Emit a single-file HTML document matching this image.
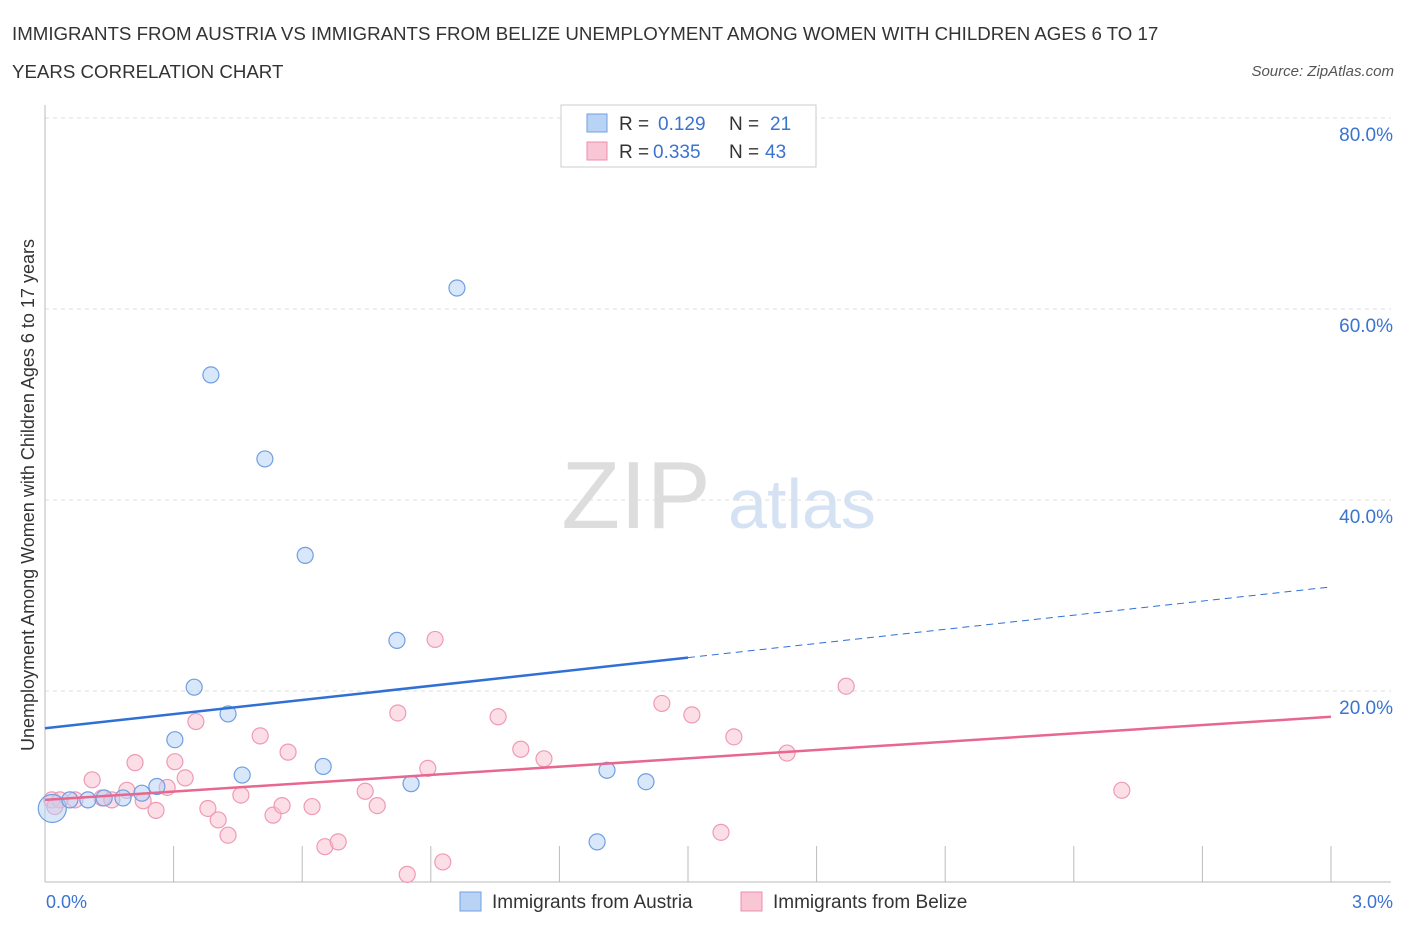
<!DOCTYPE html>
<html><head><meta charset="utf-8"><style>
body{margin:0;background:#fff;font-family:"Liberation Sans",sans-serif;}
svg text{font-family:"Liberation Sans",sans-serif;}
</style></head><body>
<svg id="c" width="1406" height="930" xmlns="http://www.w3.org/2000/svg">
<text x="12" y="40" font-size="18.7" fill="#333">IMMIGRANTS FROM AUSTRIA VS IMMIGRANTS FROM BELIZE UNEMPLOYMENT AMONG WOMEN WITH CHILDREN AGES 6 TO 17</text>
<text x="12" y="78" font-size="18.7" fill="#333">YEARS CORRELATION CHART</text>
<text x="1394" y="76" font-size="15" fill="#555" font-style="italic" text-anchor="end">Source: ZipAtlas.com</text>
<text x="636" y="528" font-size="96" fill="#ddd" font-family="Liberation Serif" text-anchor="middle">ZIP</text>
<text x="802" y="528" font-size="70" fill="#d4e2f4" text-anchor="middle">atlas</text>
<text transform="translate(34,495) rotate(-90)" font-size="18" fill="#333" text-anchor="middle">Unemployment Among Women with Children Ages 6 to 17 years</text>
<g id="grid"></g><g id="marks"></g>
<g>
<rect x="561" y="105" width="255" height="62" fill="#fff" stroke="#ccc"/>
<rect x="587" y="114" width="20" height="18" fill="#b9d3f5" stroke="#6f9fe0"/>
<rect x="587" y="142" width="20" height="18" fill="#f9c6d5" stroke="#ec8fac"/>
<text y="130" font-size="19" fill="#333"><tspan x="619">R =</tspan><tspan x="658" fill="#3a73d0">0.129</tspan><tspan x="729">N =</tspan><tspan x="770" fill="#3a73d0">21</tspan></text>
<text y="158" font-size="19" fill="#333"><tspan x="619">R =</tspan><tspan x="653" fill="#3a73d0">0.335</tspan><tspan x="729">N =</tspan><tspan x="765" fill="#3a73d0">43</tspan></text>
</g>
<g>
<rect x="460" y="892" width="21" height="19" fill="#b9d3f5" stroke="#6f9fe0"/>
<text x="492" y="908" font-size="19" fill="#333">Immigrants from Austria</text>
<rect x="741" y="892" width="21" height="19" fill="#f9c6d5" stroke="#ec8fac"/>
<text x="773" y="908" font-size="19" fill="#333">Immigrants from Belize</text>
</g>
</svg>
<script>
const yTicks=[20,40,60,80];
const xTickLabels=["0.0%","3.0%"];
const austriaX=[0.017,0.058,0.100,0.138,0.182,0.226,0.261,0.303,0.348,0.387,0.427,0.460,0.513,0.607,0.649,0.821,0.854,0.961,1.311,1.288,1.402];
const austriaY=[7.7,8.6,8.6,8.8,8.8,9.3,10.0,14.9,20.4,53.1,17.6,11.2,44.3,34.2,12.1,25.3,10.3,62.2,11.7,4.2,10.5];
const belizeX=[0.016,0.035,0.070,0.110,0.133,0.156,0.191,0.210,0.229,0.259,0.285,0.303,0.327,0.352,0.380,0.404,0.427,0.457,0.502,0.532,0.553,0.567,0.623,0.653,0.684,0.747,0.775,0.823,0.845,0.893,0.910,0.928,1.057,1.110,1.164,1.439,1.509,1.577,1.607,1.731,1.869,2.512,0.023];
const belizeY=[8.6,8.6,8.6,10.7,8.8,8.6,9.6,12.5,8.5,7.5,9.9,12.6,10.9,16.8,7.7,6.5,4.9,9.1,15.3,7.0,8.0,13.6,7.9,3.7,4.2,9.5,8.0,17.7,0.8,11.9,25.4,2.1,17.3,13.9,12.9,18.7,17.5,5.2,15.2,13.5,20.5,9.6,7.9];
const austriaTrend=[16.1,30.9];
const belizeTrend=[8.6,17.3];
const X0=45,X1=1331,Y0=882,YT=118;
const sx=v=>X0+v/3*(X1-X0);
const sy=v=>Y0-v/80*(Y0-YT);
const NS="http://www.w3.org/2000/svg";
function mk(t,a,p){const e=document.createElementNS(NS,t);for(const k in a)e.setAttribute(k,a[k]);p.appendChild(e);return e;}
const gridG=document.getElementById('grid'),marksG=document.getElementById('marks');
yTicks.forEach(t=>{
 const l=mk('line',{x1:X0,x2:X1+60,y1:sy(t),y2:sy(t),stroke:'#ddd','stroke-dasharray':'4,4'},gridG);
 
 
 const tx=mk('text',{x:1393,y:sy(t)+23,'font-size':19,fill:'#3a73d0','text-anchor':'end'},gridG);tx.textContent=t.toFixed(1)+'%';
 
 
});
const ax=mk('line',{x1:X0,x2:X1+60,y1:Y0,y2:Y0,stroke:'#bbb'},gridG);


const ay=mk('line',{x1:X0,x2:X0,y1:105,y2:Y0,stroke:'#bbb'},gridG);


for(let i=1;i<=10;i++){const x=sx(i*0.3);mk('line',{x1:x,x2:x,y1:Y0-36,y2:Y0,stroke:'#bbb'},gridG);}
xTickLabels.forEach((s,i)=>{const t=mk('text',{x:i?1393:46,y:908,'font-size':18,fill:'#3a73d0','text-anchor':i?'end':'start'},gridG);t.textContent=s;
 
 });
belizeX.forEach((x,i)=>{const c=mk('circle',{cx:sx(x),cy:sy(belizeY[i]),r:8,fill:'rgba(249,190,208,0.5)',stroke:'#ef9ab5','stroke-width':1.2},marksG);
 
 });
austriaX.forEach((x,i)=>{const c=mk('circle',{cx:sx(x),cy:sy(austriaY[i]),r:i==0?14:8,fill:'rgba(180,208,245,0.5)',stroke:'#6f9fe0','stroke-width':1.2},marksG);
 
 });
const mid=1.5,am=austriaTrend[0]+(austriaTrend[1]-austriaTrend[0])*mid/3;
const l1=mk('line',{x1:sx(0),y1:sy(austriaTrend[0]),x2:sx(mid),y2:sy(am),stroke:'#2f6fd6','stroke-width':2.5},marksG);


const l2=mk('line',{x1:sx(mid),y1:sy(am),x2:sx(3),y2:sy(austriaTrend[1]),stroke:'#2f6fd6','stroke-width':1,'stroke-dasharray':'7,5'},marksG);


const l3=mk('line',{x1:sx(0),y1:sy(belizeTrend[0]),x2:sx(3),y2:sy(belizeTrend[1]),stroke:'#e8678f','stroke-width':2.5},marksG);


</script>
</body></html>
